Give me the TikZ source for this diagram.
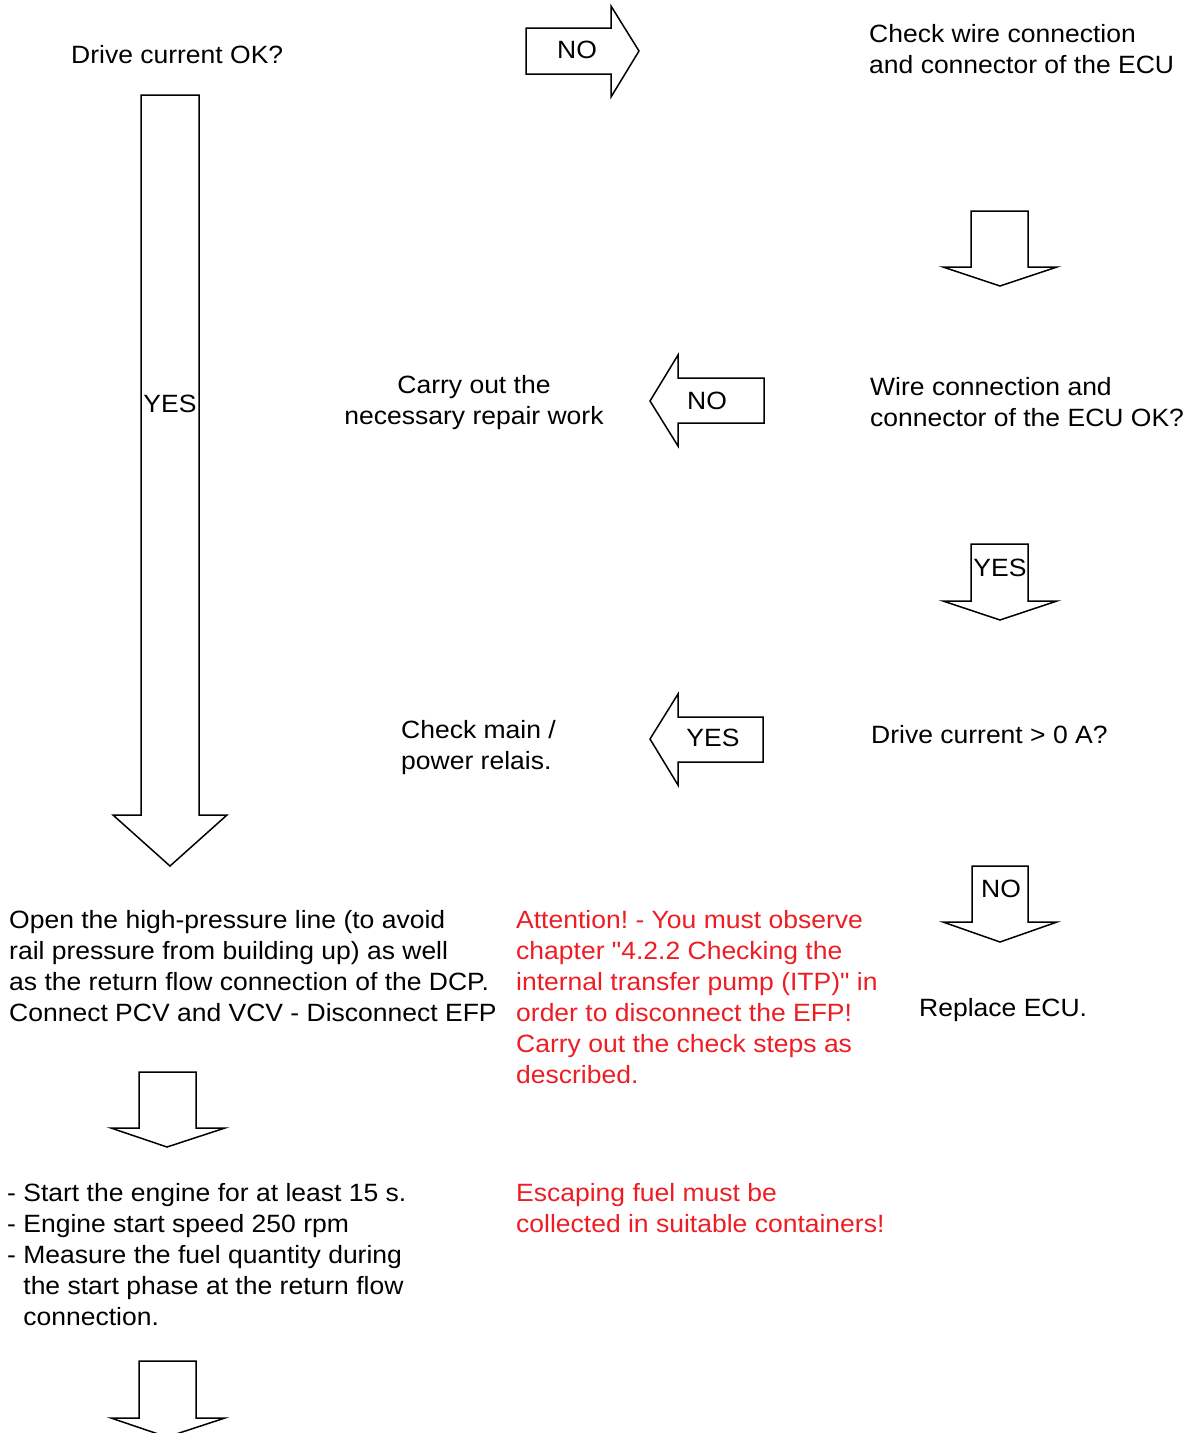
\documentclass[tikz,border=0pt]{standalone}
\usepackage{fontspec}
\setmainfont[FakeStretch=1.06,Ligatures=TeXOff]{Liberation Sans}
\definecolor{warnred}{RGB}{236,30,36}
\frenchspacing
\begin{document}
\begin{tikzpicture}[x=1pt,y=-1pt,
  blockarrow/.style={draw=black,line width=1.5pt,fill=white,line join=miter},
  txt/.style={inner sep=0pt,align=left,anchor=west,font=\fontsize{25}{31}\selectfont},
  lbl/.style={inner sep=0pt,font=\fontsize{25}{31}\selectfont},
  warn/.style={txt,text=warnred}]
\useasboundingbox (0,0) rectangle (1197,1433);
% block arrows
\draw[blockarrow] (526,28) -- (611,28) -- (611,6) -- (639,51) -- (611,97) -- (611,74) -- (526,74) -- cycle;
\draw[blockarrow] (971,211) -- (1028,211) -- (1028,267) -- (1057,267) -- (1000,286) -- (943,267) -- (971,267) -- cycle;
\draw[blockarrow] (764,378) -- (678,378) -- (678,355) -- (650,401) -- (678,446) -- (678,423) -- (764,423) -- cycle;
\draw[blockarrow] (971,544) -- (1028,544) -- (1028,601) -- (1057,601) -- (1000,620) -- (943,601) -- (971,601) -- cycle;
\draw[blockarrow] (763,717) -- (678,717) -- (678,694) -- (650,739) -- (678,785) -- (678,762) -- (763,762) -- cycle;
\draw[blockarrow] (972,866) -- (1028,866) -- (1028,922) -- (1057,922) -- (1000,942) -- (943,922) -- (972,922) -- cycle;
\draw[blockarrow] (141,95) -- (199,95) -- (199,815) -- (227,815) -- (170,866) -- (113,815) -- (141,815) -- cycle;
\draw[blockarrow] (139,1072) -- (196,1072) -- (196,1128) -- (225,1128) -- (167,1147) -- (111,1128) -- (139,1128) -- cycle;
\draw[blockarrow] (139,1361) -- (196,1361) -- (196,1418) -- (225,1418) -- (167,1437) -- (111,1418) -- (139,1418) -- cycle;
% arrow labels
\node[lbl] (l1) at (577,50) {NO};
\node[lbl] (l2) at (707,401) {NO};
\node[lbl] (l3) at (1000,568) {YES};
\node[lbl] (l4) at (713,738) {YES};
\node[lbl] (l5) at (1001,889) {NO};
\node[lbl] (l6) at (170,404) {YES};
% texts
\node[txt] (t1) at (71,55) {Drive current OK?};
\node[txt] (t2) at (869,49) {Check wire connection\\and connector of the ECU};
\node[txt,align=center,anchor=center] (t3) at (474,403) {Carry out the\\necessary repair work};
\node[txt] (t4) at (870,402) {Wire connection and\\connector of the ECU OK?};
\node[txt] (t5) at (401,748) {Check main /\\power relais.};
\node[txt] (t6) at (871,735) {Drive current > 0 A?};
\node[txt] (t7) at (9,966) {Open the high-pressure line (to avoid\\rail pressure from building up) as well\\as the return flow connection of the DCP.\\Connect PCV and VCV - Disconnect EFP};
\node[warn] (t8) at (516,997) {Attention! - You must observe\\chapter "4.2.2 Checking the\\internal transfer pump (ITP)" in\\order to disconnect the EFP!\\Carry out the check steps as\\described.};
\node[txt] (t9) at (919,1010) {Replace ECU.};
\node[txt] (t10) at (7,1255) {- Start the engine for at least 15 s.\\- Engine start speed 250 rpm\\- Measure the fuel quantity during\\\phantom{- }the start phase at the return flow\\\phantom{- }connection.};
\node[warn] (t11) at (516,1208) {Escaping fuel must be\\collected in suitable containers!};
\end{tikzpicture}
\end{document}
